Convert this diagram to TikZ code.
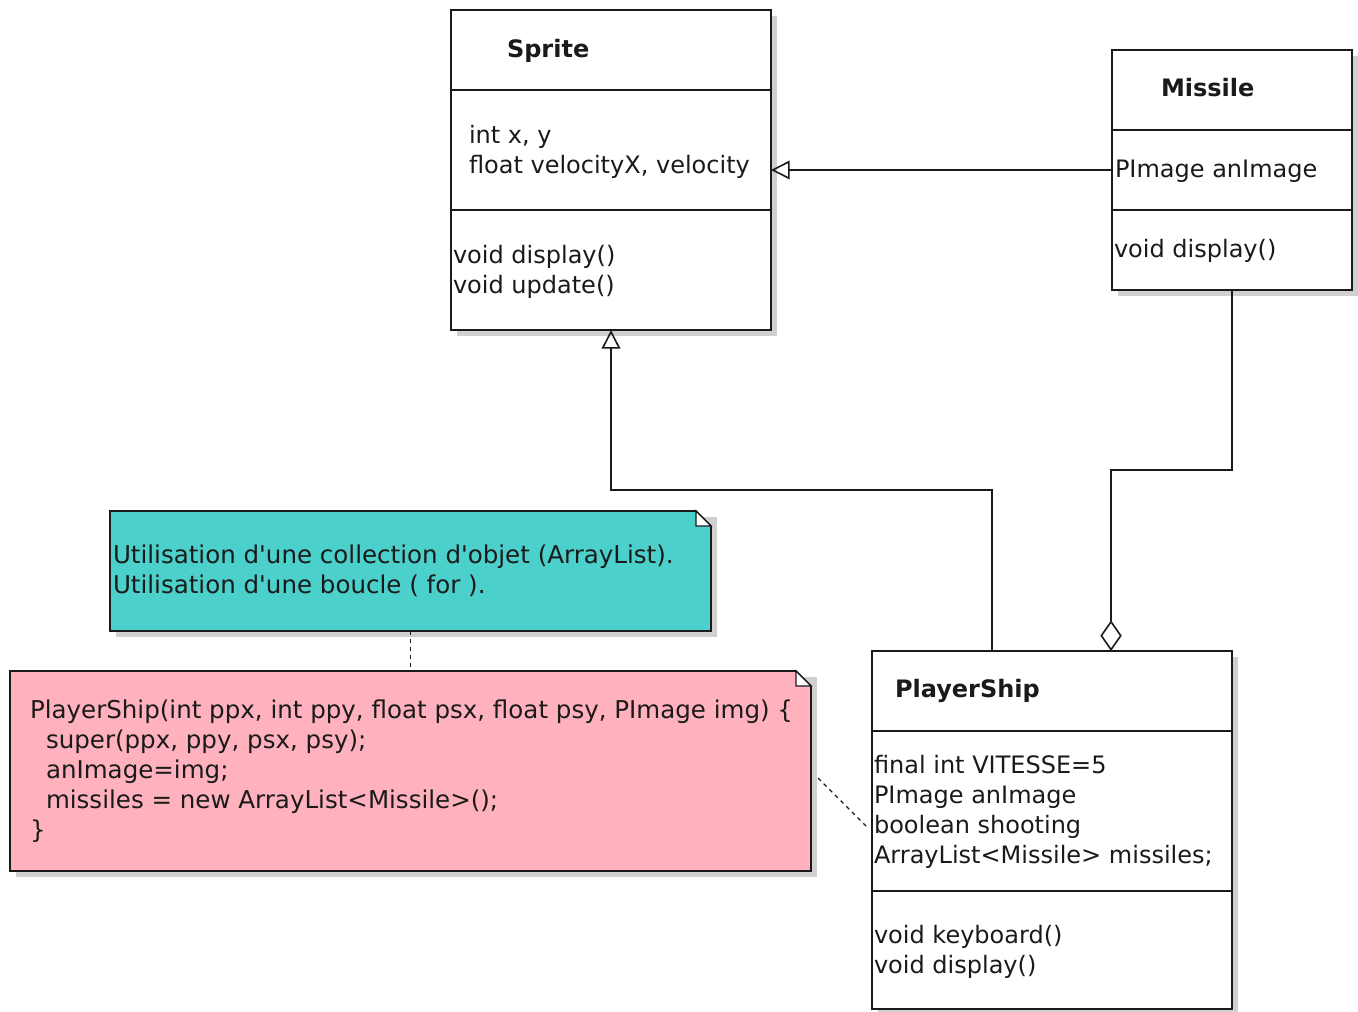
\documentclass[tikz,border=0pt]{standalone}
\usepackage{fontspec}
\setmainfont{DejaVu Sans}[Ligatures=TeXOff]
\usetikzlibrary{arrows.meta,calc}
\definecolor{notecyan}{HTML}{4BD0CB}
\definecolor{notepink}{HTML}{FFB2BD}
\definecolor{shadowgray}{HTML}{D0D0D0}
\definecolor{linecol}{HTML}{1A1A1A}
\begin{document}
\begin{tikzpicture}[x=0.75pt,y=-0.75pt,
  frame/.style={draw=none, inner sep=0pt, outer sep=0pt},
  boxline/.style={draw=linecol, line width=1.3pt},
  txt/.style={anchor=base west, inner sep=0pt, outer sep=0pt, text=linecol, font=\fontsize{18}{22.5}\selectfont},
  ntxt/.style={txt, font=\fontsize{18.4}{22.5}\selectfont},
  ttl/.style={txt, font=\fontsize{18}{22.5}\selectfont\bfseries},
  conn/.style={draw=linecol, line width=1pt},
  inh/.style={conn, -{Triangle[open, length=14pt, width=14pt, line width=1.2pt]}},
  aggr/.style={conn, {Diamond[open, length=23pt, width=16pt, line width=1.2pt]}-},
  notelink/.style={draw=linecol, line width=0.9pt, dash pattern=on 3pt off 3pt}
]
\useasboundingbox (0,0) rectangle (1358,1011);

% ---- frames (invisible named nodes)
\node[frame, minimum width=240pt, minimum height=240pt] (sprite) at (611,170) {};
\node[frame, minimum width=180pt, minimum height=180pt] (missile) at (1232,170) {};
\node[frame, minimum width=270pt, minimum height=268.5pt] (ps) at (1052,830) {};
\node[frame, minimum width=450.75pt, minimum height=90pt] (cyan) at (410.5,571) {};
\node[frame, minimum width=600.75pt, minimum height=150pt] (pink) at (410.5,771) {};

% ---- shadows
\foreach \n in {sprite,missile,ps,cyan,pink}{
  \fill[shadowgray] ($(\n.north west)+(6,6)$) rectangle ($(\n.south east)+(6,6)$);
}

% ---- class boxes
\foreach \n in {sprite,missile,ps}{
  \filldraw[boxline, fill=white] (\n.north west) rectangle (\n.south east);
}
\draw[boxline] (sprite.west |- 0,90) -- (sprite.east |- 0,90);
\draw[boxline] (sprite.west |- 0,210) -- (sprite.east |- 0,210);
\draw[boxline] (missile.west |- 0,130) -- (missile.east |- 0,130);
\draw[boxline] (missile.west |- 0,210) -- (missile.east |- 0,210);
\draw[boxline] (ps.west |- 0,731) -- (ps.east |- 0,731);
\draw[boxline] (ps.west |- 0,891) -- (ps.east |- 0,891);

% ---- notes
\foreach \n/\c in {cyan/notecyan,pink/notepink}{
  \filldraw[boxline, fill=\c] (\n.north west) -- ($(\n.north east)+(-15,0)$) -- ($(\n.north east)+(0,15)$) -- (\n.south east) -- (\n.south west) -- cycle;
  \filldraw[draw=linecol, line width=1pt, fill=white] ($(\n.north east)+(-15,0)$) -- ($(\n.north east)+(-15,15)$) -- ($(\n.north east)+(0,15)$) -- cycle;
}

% ---- texts: Sprite
\node[ttl] (spriteT) at (507,57) {Sprite};
\node[txt] (spriteA1) at (469,143) {int x, y};
\node[txt] (spriteA2) at (469,173) {float velocityX, velocity};
\node[txt] (spriteM1) at (453,263) {void display()};
\node[txt] (spriteM2) at (453,293) {void update()};
% Missile
\node[ttl] (missileT) at (1161,96) {Missile};
\node[txt] (missileA1) at (1115,177) {PImage anImage};
\node[txt] (missileM1) at (1114,257) {void display()};
% PlayerShip
\node[ttl] (psT) at (895,697) {PlayerShip};
\node[txt] (psA1) at (874,773) {final int VITESSE=5};
\node[txt] (psA2) at (874,803) {PImage anImage};
\node[txt] (psA3) at (874,833) {boolean shooting};
\node[txt] (psA4) at (874,863) {ArrayList<Missile> missiles;};
\node[txt] (psM1) at (874,943) {void keyboard()};
\node[txt] (psM2) at (874,973) {void display()};
% cyan note
\node[ntxt] (cyan1) at (113,563) {Utilisation d'une collection d'objet (ArrayList).};
\node[ntxt] (cyan2) at (113,593) {Utilisation d'une boucle ( for ).};
% pink note
\node[ntxt] (pink1) at (30,718) {PlayerShip(int ppx, int ppy, float psx, float psy, PImage img) \{};
\node[ntxt] (pink2) at (46,748) {super(ppx, ppy, psx, psy);};
\node[ntxt] (pink3) at (46,778) {anImage=img;};
\node[ntxt] (pink4) at (46,808) {missiles = new ArrayList<Missile>();};
\node[ntxt] (pink5) at (30,838) {\}};

% ---- connectors
\draw[inh] (missile.west) -- (sprite.east);
\coordinate (psInh) at ($(ps.north west)!0.333!(ps.north east)$);
\draw[inh] (psInh) -- ++(0,-161) -| (sprite.south);
\coordinate (psAgg) at ($(ps.north west)!0.664!(ps.north east)$);
\draw[aggr] (psAgg) -- ++(0,-181) -| (missile.south);
\draw[notelink] (cyan.south) -- (pink.north);
\coordinate (pinkLink) at ($(pink.east)+(7,7)$);
\coordinate (psLink) at ($(ps.west)+(-4,-2)$);
\draw[notelink] (pinkLink) -- (psLink);
\end{tikzpicture}
\end{document}
